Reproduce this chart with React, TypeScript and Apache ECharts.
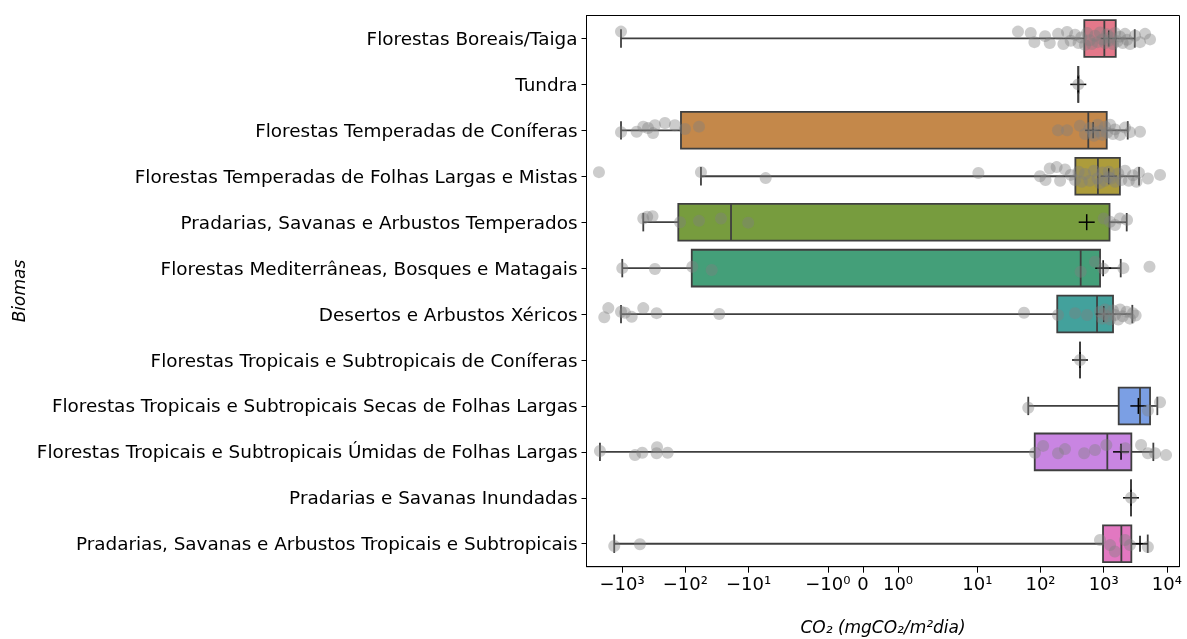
import React, { useEffect, useRef } from "react";
import * as echarts from "echarts";

const biomes = [
  "Florestas Boreais/Taiga",
  "Tundra",
  "Florestas Temperadas de Coníferas",
  "Florestas Temperadas de Folhas Largas e Mistas",
  "Pradarias, Savanas e Arbustos Temperados",
  "Florestas Mediterrâneas, Bosques e Matagais",
  "Desertos e Arbustos Xéricos",
  "Florestas Tropicais e Subtropicais de Coníferas",
  "Florestas Tropicais e Subtropicais Secas de Folhas Largas",
  "Florestas Tropicais e Subtropicais Úmidas de Folhas Largas",
  "Pradarias e Savanas Inundadas",
  "Pradarias, Savanas e Arbustos Tropicais e Subtropicais",
];

const whiskerLow = [-1040, 396, -1040, -56.5, -462, -993, -1040, 422, 64, -2239, 2704, -1331];
const quartile1 = [493, 396, -117, 356, -129, -79, 184, 422, 1726, 81, 2704, 975];
const medians = [1023, 396, 570, 809, -18.9, 432, 784, 422, 3752, 1140, 2704, 1901];
const quartile3 = [1549, 396, 1116, 1803, 1236, 875, 1403, 422, 5407, 2735, 2704, 2735];
const whiskerHigh = [3097, 396, 2398, 3622, 2312, 1858, 2835, 422, 7050, 6095, 2704, 4970];
const means = [1200, 396, 680, 1200, 538, 980, 1000, 422, 3530, 1880, 2704, 3752];

const boxColors = [
  "#e4788a", "#d2844c", "#c4884a", "#ad9c3b", "#779c3e", "#449f79",
  "#43a19c", "#45a0bd", "#7b9fe4", "#c985e2", "#da7ad5", "#e278c1",
];

// [value, jitter (category units)]
const stripPoints: number[][][] = [
  [[-1040, -0.15], [44, -0.15], [70, -0.12], [80, 0.08], [118, -0.05], [140, 0.1], [190, -0.1], [230, 0.12], [263, -0.14], [300, 0.05], [352, -0.08], [400, 0.1], [440, -0.02], [506, 0.14], [544, -0.12], [600, 0.04], [650, 0.12], [728, -0.06], [800, 0.08], [873, -0.13], [950, 0.02], [1050, 0.1], [1127, -0.09], [1200, 0.05], [1259, -0.02], [1400, 0.12], [1510, -0.12], [1650, 0.06], [1811, -0.04], [2000, 0.1], [2172, -0.1], [2339, 0.03], [2606, 0.12], [3133, -0.06], [3750, 0.08], [4508, -0.1], [5405, 0.02]],
  [[396, 0]],
  [[-1040, 0.04], [-588, 0.03], [-462, -0.08], [-389, -0.05], [-324, 0.06], [-302, -0.11], [-210, -0.16], [-146, -0.11], [-101, -0.03], [-60.7, -0.08], [189, 0], [263, 0], [420, -0.1], [506, 0.08], [600, -0.05], [680, 0.06], [700, 0.12], [800, -0.12], [873, 0.02], [950, 0.1], [1050, -0.08], [1127, 0.05], [1259, -0.12], [1400, 0.08], [1510, -0.02], [1811, 0.1], [2172, -0.06], [2606, 0.04], [3750, 0.03]],
  [[-2322, -0.09], [-56.5, -0.09], [-5.35, 0.04], [10.4, -0.07], [98, 0.0], [120, 0.08], [140, -0.17], [180, -0.2], [204, 0.1], [244, -0.15], [300, -0.03], [352, 0.08], [400, -0.1], [450, 0.12], [506, -0.05], [600, 0.1], [700, -0.12], [800, 0.05], [873, 0.15], [950, -0.08], [1050, 0.1], [1200, -0.1], [1200, 0.02], [1300, 0.05], [1510, 0.12], [1700, -0.06], [1900, 0.08], [2172, -0.12], [2500, 0.1], [2900, -0.02], [3300, 0.12], [3600, -0.08], [5000, 0.05], [7783, -0.03]],
  [[-462, -0.08], [-400, -0.12], [-330, -0.13], [-121, 0.0], [-60.7, -0.03], [-27.2, -0.08], [-10.1, 0.01], [1000, -0.08], [1259, -0.01], [1510, 0.06], [1811, -0.08], [2339, -0.05]],
  [[-993, 0.0], [-302, 0.02], [-77.5, -0.03], [-38.2, 0.04], [432, 0.08], [728, -0.14], [980, 0.01], [2043, 0.0], [5300, -0.03]],
  [[-1914, 0.07], [-1652, -0.13], [-1040, -0.05], [-900, -0.03], [-705, 0.06], [-462, -0.13], [-284, -0.02], [-29, 0.0], [54.8, -0.03], [189, 0.02], [352, -0.02], [544, 0.02], [873, -0.05], [950, 0.1], [1000, 0.0], [1050, -0.1], [1150, 0.05], [1259, 0.12], [1400, -0.08], [1510, 0.02], [1700, 0.12], [1811, -0.1], [2000, 0.05], [2300, -0.05], [2600, 0.1], [2900, -0.02], [3200, 0.03]],
  [[422, 0]],
  [[64, 0.04], [5000, 0.1], [7783, -0.08]],
  [[-2239, -0.02], [-625, 0.07], [-479, 0.02], [-284, 0.03], [-280, -0.1], [-190, 0.02], [81.8, 0.02], [110, -0.13], [189, 0.03], [244, -0.06], [490, 0.03], [728, -0.04], [1100, -0.15], [2200, -0.08], [3900, -0.15], [5000, 0.03], [6486, 0.03], [9680, 0.07]],
  [[2704, 0]],
  [[-1331, 0.05], [-522, 0.01], [873, -0.08], [1259, 0.03], [1500, 0.17], [2172, -0.08], [2600, 0.03], [5000, 0.07]],
];

const tickValues = [-1000, -100, -10, -1, 0, 1, 10, 100, 1000, 10000];
const tickLabels = ["−10³", "−10²", "−10¹", "−10⁰", "0", "10⁰", "10¹", "10²", "10³", "10⁴"];

const LINTHRESH = 2;
const LINSCALE_ADJ = 1 / (1 - 1 / 10);
function symlog(v: number): number {
  const a = Math.abs(v);
  if (a <= LINTHRESH) return (v * LINSCALE_ADJ) / LINTHRESH;
  return Math.sign(v) * (LINSCALE_ADJ + Math.log10(a / LINTHRESH));
}

const FONT = "DejaVu Sans";
const EDGE = "#3f3f3f";

export default function App() {
  const ref = useRef<HTMLDivElement>(null);
  useEffect(() => {
    if (!ref.current) return;
    const chart = echarts.init(ref.current, null, { renderer: "svg" });
    const tickPos = tickValues.map(symlog);
    const boxData = biomes.map((_, i) => [
      i,
      symlog(whiskerLow[i]),
      symlog(quartile1[i]),
      symlog(medians[i]),
      symlog(quartile3[i]),
      symlog(whiskerHigh[i]),
      symlog(means[i]),
    ]);
    const scatterData: number[][] = [];
    stripPoints.forEach((row, i) => {
      row.forEach(([v, j]) => scatterData.push([symlog(v), i + j]));
    });
    chart.setOption({
      animation: false,
      grid: {
        left: 586.5,
        top: 15.5,
        right: 7.5,
        bottom: 72.3,
        show: true,
        borderColor: "#000",
        borderWidth: 1,
        outerBoundsMode: "none",
      },
      xAxis: {
        type: "value",
        min: -4.373,
        max: 5.009,
        splitLine: { show: false },
        axisLine: { show: true, onZero: false, lineStyle: { color: "#000", width: 1 } },
        axisTick: {
          show: true,
          length: 6,
          customValues: tickPos,
          lineStyle: { color: "#000", width: 1 },
        },
        axisLabel: {
          customValues: tickPos,
          margin: 8,
          fontFamily: FONT,
          fontSize: 18,
          color: "#000",
          formatter: (val: number) => {
            let best = 0;
            let bd = Infinity;
            tickPos.forEach((t, k) => {
              const d = Math.abs(t - val);
              if (d < bd) {
                bd = d;
                best = k;
              }
            });
            return tickLabels[best];
          },
        },
      },
      yAxis: [
        {
          type: "category",
          data: biomes,
          inverse: true,
          axisLine: { show: true, onZero: false, lineStyle: { color: "#000", width: 1 } },
          axisTick: { show: true, alignWithLabel: true, length: 5, lineStyle: { color: "#000" } },
          axisLabel: { fontFamily: FONT, fontSize: 18.4, color: "#000", margin: 9 },
          splitLine: { show: false },
        },
        {
          type: "value",
          min: -0.5,
          max: 11.5,
          inverse: true,
          show: false,
        },
      ],
      series: [
        {
          type: "custom",
          xAxisIndex: 0,
          yAxisIndex: 0,
          z: 2,
          data: boxData,
          encode: { x: [1, 2, 3, 4, 5, 6], y: 0 },
          renderItem: (params: any, api: any) => {
            const i = api.value(0);
            const px = (k: number) => api.coord([api.value(k), i])[0];
            const yc = api.coord([api.value(1), i])[1];
            const band = api.size([0, 1])[1];
            const bh = band * 0.8;
            const xl = px(1), x1 = px(2), xm = px(3), x3 = px(4), xh = px(5), xmean = px(6);
            const ls = { stroke: EDGE, lineWidth: 1.8 };
            const cap = bh / 4;
            const pl = 8;
            return {
              type: "group",
              children: [
                { type: "line", shape: { x1: xl, y1: yc, x2: x1, y2: yc }, style: ls },
                { type: "line", shape: { x1: x3, y1: yc, x2: xh, y2: yc }, style: ls },
                { type: "line", shape: { x1: xl, y1: yc - cap, x2: xl, y2: yc + cap }, style: ls },
                { type: "line", shape: { x1: xh, y1: yc - cap, x2: xh, y2: yc + cap }, style: ls },
                {
                  type: "rect",
                  shape: { x: x1, y: yc - bh / 2, width: x3 - x1, height: bh },
                  style: { fill: boxColors[i], stroke: EDGE, lineWidth: 1.8 },
                },
                { type: "line", shape: { x1: xm, y1: yc - bh / 2, x2: xm, y2: yc + bh / 2 }, style: ls },
                { type: "line", shape: { x1: xmean - pl, y1: yc, x2: xmean + pl, y2: yc }, style: { stroke: "#000", lineWidth: 1.5 } },
                { type: "line", shape: { x1: xmean, y1: yc - pl, x2: xmean, y2: yc + pl }, style: { stroke: "#000", lineWidth: 1.5 } },
              ],
            };
          },
        },
        {
          type: "scatter",
          xAxisIndex: 0,
          yAxisIndex: 1,
          z: 3,
          symbolSize: 12,
          data: scatterData,
          itemStyle: { color: "rgba(128,128,128,0.5)" },
        },
      ],
      graphic: [
        {
          type: "text",
          x: 883,
          y: 627,
          style: {
            text: "CO₂ (mgCO₂/m²dia)",
            font: `italic 17px "${FONT}"`,
            fill: "#000",
            align: "center",
            verticalAlign: "middle",
          },
        },
        {
          type: "text",
          x: 19,
          y: 291,
          rotation: Math.PI / 2,
          style: {
            text: "Biomas",
            font: `italic 17px "${FONT}"`,
            fill: "#000",
            align: "center",
            verticalAlign: "middle",
          },
        },
      ],
    });
    return () => chart.dispose();
  }, []);
  return (
    <div
      ref={ref}
      style={{ position: "fixed", left: 0, top: 0, width: 1187, height: 639 }}
    />
  );
}
